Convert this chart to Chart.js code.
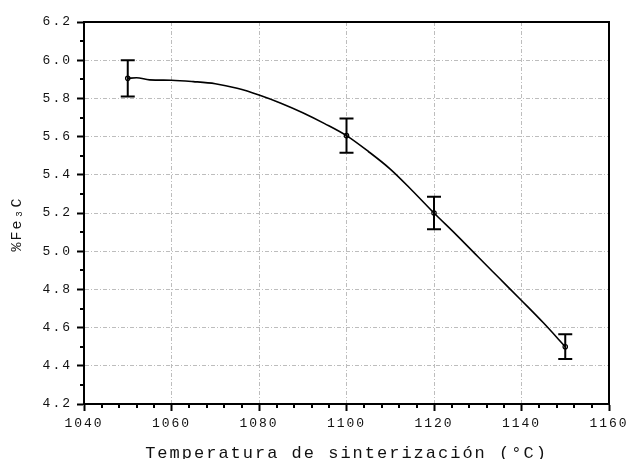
<!DOCTYPE html>
<html>
<head>
<meta charset="utf-8">
<script src="https://cdn.jsdelivr.net/npm/chart.js@4"></script>
<style>html, body { margin: 0; padding: 0; background: #fff; }</style>
</head>
<body>
<canvas id="chart-fe3c" width="632" height="459"></canvas>
<script>
// measured points with error bars
var temps = [1050, 1100, 1120, 1150];
var fe3c = [5.905, 5.605, 5.20, 4.50];
var fe3cErr = [0.095, 0.09, 0.085, 0.065];

// fitted curve
var fitTemps = [1050, 1052, 1055, 1060, 1065, 1070, 1075, 1080, 1085, 1090, 1095, 1100, 1105, 1110, 1115, 1120, 1125, 1130, 1135, 1140, 1145, 1150];
var fitFe3c = [5.905, 5.908, 5.897, 5.895, 5.888, 5.877, 5.853, 5.818, 5.775, 5.725, 5.668, 5.605, 5.522, 5.43, 5.318, 5.20, 5.088, 4.972, 4.857, 4.742, 4.625, 4.50];

var xTicks = [1040, 1060, 1080, 1100, 1120, 1140, 1160];
var yTicks = [4.2, 4.4, 4.6, 4.8, 5.0, 5.2, 5.4, 5.6, 5.8, 6.0, 6.2];

var ctx = document.getElementById('chart-fe3c').getContext('2d');

var monoFont = "'Liberation Mono', 'DejaVu Sans Mono', monospace";

function gridColor(c, ticks) {
    if (c.tick && (c.tick.value === ticks[0] || c.tick.value === ticks[ticks.length - 1])) {
        return 'rgba(0,0,0,0)';
    }
    return '#bdbdbd';
}

var extras = {
    id: 'extras',
    beforeDraw: function(chart) {
        chart.ctx.letterSpacing = '2px';
    },
    afterDatasetsDraw: function(chart) {
        var c = chart.ctx, x = chart.scales.x, y = chart.scales.y;
        c.save();
        c.strokeStyle = '#000';
        c.lineWidth = 2;
        for (var i = 0; i < temps.length; i++) {
            var px = x.getPixelForValue(temps[i]);
            var top = y.getPixelForValue(fe3c[i] + fe3cErr[i]);
            var bot = y.getPixelForValue(fe3c[i] - fe3cErr[i]);
            c.beginPath();
            c.moveTo(px, top); c.lineTo(px, bot);
            c.moveTo(px - 7, top); c.lineTo(px + 7, top);
            c.moveTo(px - 7, bot); c.lineTo(px + 7, bot);
            c.stroke();
        }
        c.restore();
    },
    afterDraw: function(chart) {
        var c = chart.ctx, x = chart.scales.x, y = chart.scales.y, a = chart.chartArea;
        c.save();
        c.strokeStyle = '#000';
        c.lineWidth = 2;
        c.beginPath();
        // minor ticks
        for (var v = 1044; v < 1160; v += 4) {
            if ((v - 1040) % 20 === 0) continue;
            var px = Math.round(x.getPixelForValue(v));
            c.moveTo(px, a.bottom); c.lineTo(px, a.bottom + 4);
        }
        for (var k = 0; k < yTicks.length - 1; k++) {
            var py = Math.round(y.getPixelForValue((yTicks[k] + yTicks[k + 1]) / 2));
            c.moveTo(a.left - 4, py); c.lineTo(a.left, py);
        }
        // top and right frame
        c.moveTo(a.left, a.top); c.lineTo(a.right, a.top); c.lineTo(a.right, a.bottom);
        c.stroke();
        c.restore();
    }
};

var chart = new Chart(ctx, {
    data: {
        datasets: [{
            type: 'line',
            label: 'ajuste',
            data: fitTemps.map(function(t, i) { return {x: t, y: fitFe3c[i]}; }),
            borderColor: '#000',
            borderWidth: 1.6,
            pointRadius: 0,
            cubicInterpolationMode: 'monotone',
            fill: false
        },
        {
            type: 'scatter',
            label: '%Fe3C',
            data: temps.map(function(t, i) { return {x: t, y: fe3c[i]}; }),
            pointRadius: 2.2,
            borderColor: '#000',
            backgroundColor: '#fff',
            borderWidth: 1.2
        }]
    },

    options: {
        responsive: false,
        animation: false,
        plugins: {
            legend: { display: false },
            tooltip: { enabled: false }
        },
        layout: {
            padding: { left: 0, top: 22, right: 23, bottom: 0 }
        },
        scales: {
            x: {
                type: 'linear',
                min: 1040,
                max: 1160,
                afterBuildTicks: function(s) { s.ticks = xTicks.map(function(v) { return {value: v}; }); },
                afterFit: function(s) { s.height = 55; },
                ticks: {
                    color: '#111',
                    padding: 5,
                    maxRotation: 0,
                    font: { family: monoFont, size: 13 },
                    callback: function(v) { return String(v); }
                },
                grid: {
                    color: function(c) { return gridColor(c, xTicks); },
                    lineWidth: 1,
                    tickColor: '#000',
                    tickWidth: 2,
                    tickLength: 7
                },
                border: { display: true, color: '#000', width: 2, dash: [4, 2, 1, 2] },
                title: {
                    display: true,
                    text: 'Temperatura de sinterización (°C)',
                    color: '#111',
                    font: { family: monoFont, size: 17 },
                    padding: { top: 0, bottom: -5 }
                }
            },
            y: {
                type: 'linear',
                min: 4.2,
                max: 6.2,
                afterBuildTicks: function(s) { s.ticks = yTicks.map(function(v) { return {value: v}; }); },
                afterFit: function(s) { s.width = 84; },
                ticks: {
                    color: '#111',
                    padding: 5,
                    font: { family: monoFont, size: 13 },
                    callback: function(v) { return v.toFixed(1); }
                },
                grid: {
                    color: function(c) { return gridColor(c, yTicks); },
                    lineWidth: 1,
                    tickColor: '#000',
                    tickWidth: 2,
                    tickLength: 7
                },
                border: { display: true, color: '#000', width: 2, dash: [4, 2, 1, 2] },
                title: {
                    display: true,
                    text: '%Fe₃C  ',
                    color: '#111',
                    font: { family: monoFont, size: 15 },
                    padding: { top: 8, bottom: 0 }
                }
            }
        }
    },
    plugins: [extras]
});
</script>
</body>
</html>
